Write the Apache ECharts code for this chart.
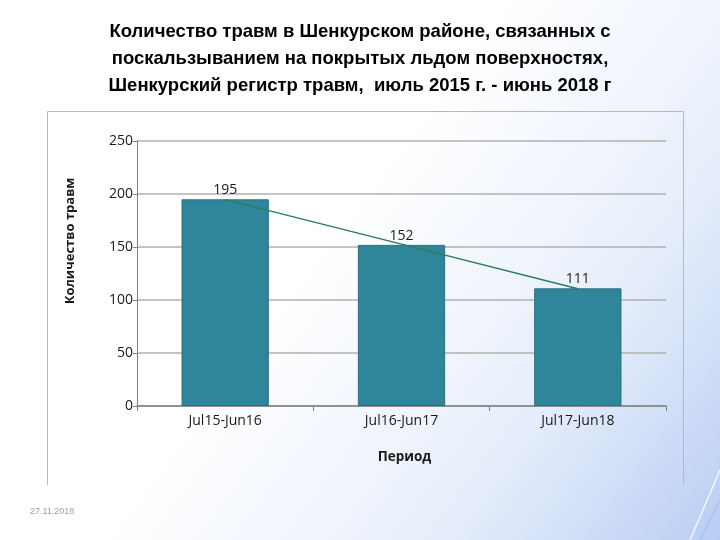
<!DOCTYPE html>
<html><head><meta charset="utf-8">
<script src="https://cdn.jsdelivr.net/npm/echarts@6/dist/echarts.min.js"></script>
<style>html,body{margin:0;padding:0;background:#fff}#c{width:720px;height:540px}</style>
</head><body><div id="c"></div>
<script>
const categories = ['Jul15-Jun16', 'Jul16-Jun17', 'Jul17-Jun18'];
const injuries = [195, 152, 111];
const trend = [194.7, 152.7, 110.7];
const yTicks = [0, 50, 100, 150, 200, 250];
const titleText = 'Количество травм в Шенкурском районе, связанных с\nпоскальзыванием на покрытых льдом поверхностях,\nШенкурский регистр травм,  июль 2015 г. - июнь 2018 г';
const yName = 'Количество травм';

const chart = echarts.init(document.getElementById('c'));
chart.setOption({
  animation: false,
  backgroundColor: 'transparent',
  graphic: [
    { type: 'rect', z: -10, shape: { x: 0, y: 0, width: 720, height: 540 },
      style: { fill: new echarts.graphic.LinearGradient(0, 0, 1, 1, [
        { offset: 0, color: '#ffffff' }, { offset: 0.45, color: '#ffffff' },
        { offset: 0.75, color: '#e6eefb' }, { offset: 1, color: '#b9cdf3' }]) } },
    { type: 'line', z: -5, shape: { x1: 47.5, y1: 111.5, x2: 683.5, y2: 111.5 }, style: { stroke: '#b8b8b8', lineWidth: 1 } },
    { type: 'line', z: -5, shape: { x1: 47.5, y1: 111.5, x2: 47.5, y2: 485 }, style: { stroke: '#b8b8b8', lineWidth: 1 } },
    { type: 'line', z: -5, shape: { x1: 683.5, y1: 111.5, x2: 683.5, y2: 485 }, style: { stroke: '#b8b8b8', lineWidth: 1 } },
    { type: 'line', z: -5, shape: { x1: 690, y1: 540, x2: 720, y2: 470 }, style: { stroke: '#ffffff', lineWidth: 1.5, opacity: 0.8 } },
    { type: 'line', z: -5, shape: { x1: 700, y1: 540, x2: 720, y2: 500 }, style: { stroke: '#9fb9ea', lineWidth: 1 } },
    { type: 'text', left: 30, top: 507, style: { text: '27.11.2018', fill: '#a0a0a0', font: '9px "Liberation Sans", Arial, sans-serif' } },
    { type: 'text', x: 70, y: 241, rotation: Math.PI / 2,
      style: { text: yName, fill: '#1a1a1a', align: 'center', verticalAlign: 'middle',
        font: 'bold 13px "Open Sans", "Noto Sans", sans-serif' } }
  ],
  title: {
    text: titleText, left: 'center', top: 13,
    textStyle: { fontFamily: '"Liberation Sans", Arial, sans-serif', fontWeight: 'bold', fontSize: 18.5, lineHeight: 27, color: '#000' }
  },
  grid: { left: 137, right: 54, top: 141, bottom: 134 },
  xAxis: {
    type: 'category', data: categories,
    name: 'Период', nameLocation: 'middle', nameGap: 44,
    nameTextStyle: { fontFamily: '"Open Sans", "Noto Sans", sans-serif', fontSize: 13.5, fontWeight: 'bold', color: '#1a1a1a', padding: [0, 0, 0, 6] },
    axisLine: { lineStyle: { color: '#808080', width: 1.5 } },
    axisTick: { show: true, length: 5, lineStyle: { color: '#808080' } },
    axisLabel: { fontFamily: '"Open Sans", "Noto Sans", sans-serif', fontSize: 14, color: '#1a1a1a', margin: 8 }
  },
  yAxis: {
    type: 'value', min: 0, max: 250, interval: 50,
    axisLine: { show: true, lineStyle: { color: '#808080', width: 1 } },
    axisTick: { show: true, length: 4, lineStyle: { color: '#808080' } },
    axisLabel: { fontFamily: '"Open Sans", "Noto Sans", sans-serif', fontSize: 14, color: '#1a1a1a', margin: 4,
      formatter: v => yTicks.includes(v) ? String(v) : '' },
    splitLine: { lineStyle: { color: '#b0b0b0', width: 1.5 } }
  },
  series: [
    { type: 'bar', data: injuries, barWidth: '49.5%',
      itemStyle: { color: '#2f8599', borderColor: '#2a6f80', borderWidth: 1 },
      label: { show: true, position: 'top', distance: 2, fontFamily: '"Open Sans", "Noto Sans", sans-serif', fontSize: 14, color: '#1a1a1a' } },
    { type: 'line', data: trend, symbol: 'none', z: 5,
      lineStyle: { color: '#2e7a5c', width: 1.5 } }
  ]
});
</script></body></html>
